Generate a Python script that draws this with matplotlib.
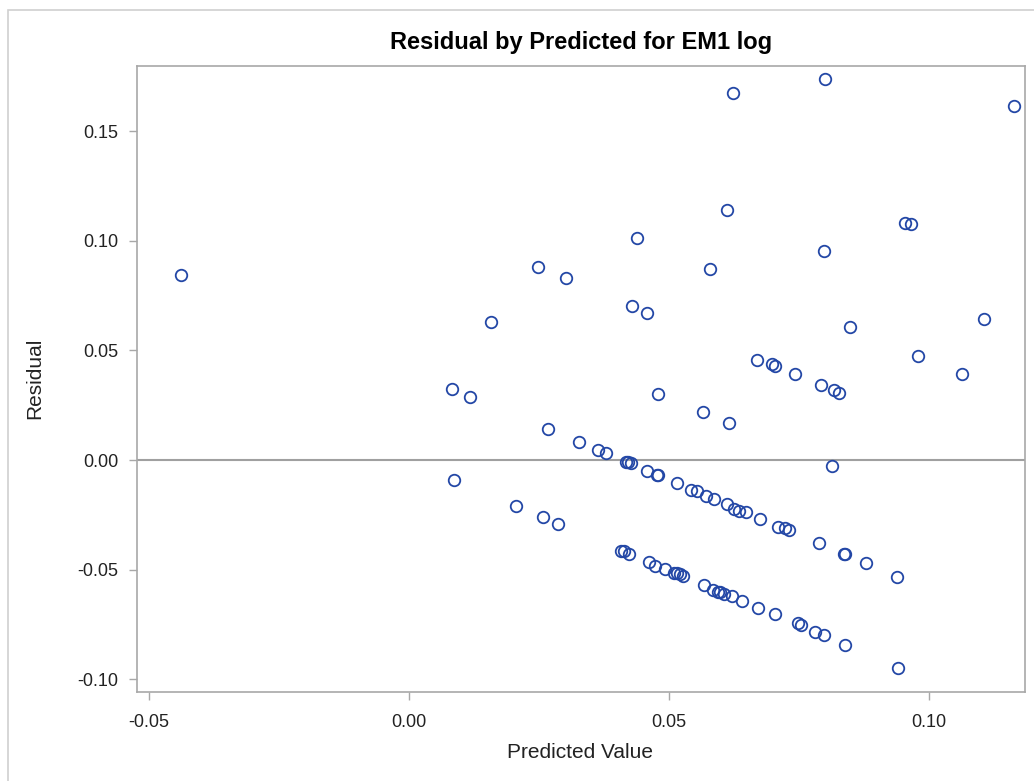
import matplotlib
matplotlib.use("Agg")
import matplotlib.pyplot as plt
from matplotlib.patches import Rectangle

plt.rcParams['font.family'] = ['Liberation Sans', 'DejaVu Sans']

predicted = [
    -0.0438, 0.0801, 0.0623, 0.1163, 0.0611, 0.0954, 0.0965, 0.0439, 0.0798, 0.0580,
    0.0249, 0.0302, 0.0429, 0.0458, 0.0158, 0.1106, 0.0848, 0.0670, 0.0698, 0.0705,
    0.0742, 0.0979, 0.1063, 0.0792, 0.0817, 0.0828, 0.0083, 0.0117, 0.0480, 0.0565,
    0.0615, 0.0268, 0.0327, 0.0364, 0.0380, 0.0417, 0.0421, 0.0427, 0.0458, 0.0478,
    0.0480, 0.0515, 0.0542, 0.0555, 0.0571, 0.0587, 0.0611, 0.0626, 0.0635, 0.0648,
    0.0676, 0.0710, 0.0723, 0.0731, 0.0788, 0.0836, 0.0838, 0.0879, 0.0939, 0.0814,
    0.0087, 0.0205, 0.0258, 0.0287,
    0.0408, 0.0413, 0.0424, 0.0462, 0.0473, 0.0492, 0.0510, 0.0515, 0.0521, 0.0527,
    0.0568, 0.0585, 0.0595, 0.0599, 0.0606, 0.0621, 0.0640, 0.0671, 0.0704, 0.0748,
    0.0755, 0.0782, 0.0799, 0.0838, 0.0940,
]
residual = [
    0.0845, 0.1740, 0.1674, 0.1615, 0.1140, 0.1082, 0.1076, 0.1014, 0.0956, 0.0874,
    0.0881, 0.0830, 0.0703, 0.0673, 0.0629, 0.0645, 0.0607, 0.0458, 0.0438, 0.0431,
    0.0393, 0.0475, 0.0393, 0.0342, 0.0320, 0.0305, 0.0326, 0.0288, 0.0303, 0.0221,
    0.0170, 0.0140, 0.0081, 0.0044, 0.0031, -0.0009, -0.0009, -0.0015, -0.0052, -0.0068,
    -0.0068, -0.0104, -0.0136, -0.0142, -0.0164, -0.0179, -0.0200, -0.0225, -0.0232, -0.0237,
    -0.0268, -0.0305, -0.0311, -0.0318, -0.0379, -0.0429, -0.0429, -0.0469, -0.0534, -0.0029,
    -0.0090, -0.0209, -0.0260, -0.0291,
    -0.0416, -0.0416, -0.0431, -0.0467, -0.0483, -0.0496, -0.0515, -0.0517, -0.0522, -0.0528,
    -0.0571, -0.0592, -0.0601, -0.0601, -0.0611, -0.0622, -0.0645, -0.0674, -0.0703, -0.0746,
    -0.0755, -0.0785, -0.0799, -0.0845, -0.0948,
]
x_ticks = [-0.05, 0.00, 0.05, 0.10]
y_ticks = [-0.10, -0.05, 0.00, 0.05, 0.10, 0.15]

W, H = 1034, 781
fig = plt.figure(figsize=(W / 100, H / 100), dpi=100)
fig.patches.append(Rectangle((8 / W, -0.1), 2, 1.1 - 10 / H, transform=fig.transFigure,
                             fill=False, edgecolor='#D0D0D0', linewidth=1.2))
L, R, T, B = 136.5, 1025, 65.5, 692
ax = fig.add_axes([L / W, 1 - B / H, (R - L) / W, (B - T) / H])

ax.axhline(0, color='#A0A0A0', linewidth=1.5, zorder=1)
ax.plot(predicted, residual, linestyle='none', marker='o', markersize=8.3,
        markerfacecolor='none', markeredgecolor='#2347A6', markeredgewidth=1.3, zorder=3)

ax.set_xlim(-0.0524, 0.1185)
ax.set_ylim(-0.1059, 0.1801)
ax.set_xticks(x_ticks)
ax.set_xticklabels([f"{v:.2f}" for v in x_ticks])
ax.set_yticks(y_ticks)
ax.set_yticklabels([f"{v:.2f}" for v in y_ticks])
for s in ax.spines.values():
    s.set_color('#A8A8A8')
    s.set_linewidth(1.2)
ax.tick_params(direction='out', length=6, width=1, color='#A8A8A8',
               labelsize=13, labelcolor='#222222')
ax.tick_params(axis='x', pad=10)
ax.tick_params(axis='y', pad=7)

fig.text(580 / W, 1 - 752 / H, 'Predicted Value', fontsize=15, color='#222222',
         ha='center', va='center')
fig.text(35 / W, 1 - 378 / H, 'Residual', fontsize=15, color='#222222',
         ha='center', va='center', rotation=90)
fig.text(581 / W, 1 - 43 / H, 'Residual by Predicted for EM1 log', fontsize=17,
         fontweight='bold', color='black', ha='center', va='center')

fig.savefig('out.png', dpi=100)
